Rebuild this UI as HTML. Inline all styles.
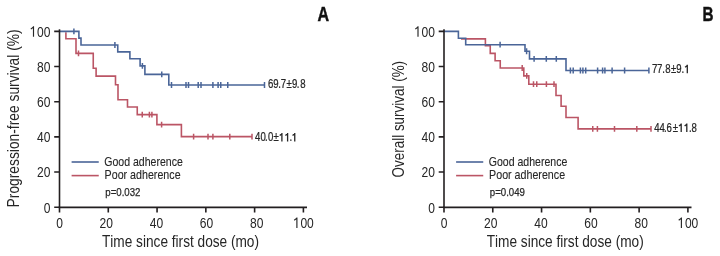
<!DOCTYPE html>
<html><head><meta charset="utf-8"><style>
html,body{margin:0;padding:0;background:#fff;width:720px;height:256px;overflow:hidden}
svg{display:block}
text{font-family:"Liberation Sans",sans-serif;font-kerning:none}
svg{will-change:transform}
</style></head><body>
<svg width="720" height="256" viewBox="0 0 720 256">
<rect width="720" height="256" fill="#fff"/>
<path d="M65.90 32.30 L65.90 32.30 L65.90 38.75 L76.00 38.75 L76.00 53.40 L93.25 53.40 L93.25 68.25 L96.10 68.25 L96.10 76.10 L115.50 76.10 L115.50 84.75 L118.00 84.75 L118.00 99.75 L127.50 99.75 L127.50 107.00 L137.25 107.00 L137.25 114.60 L156.90 114.60 L156.90 124.60 L181.40 124.60 L181.40 136.60 L252.00 136.60" fill="none" stroke="#bb5565" stroke-width="1.60" stroke-linejoin="miter"/><path d="M78.50 50.50 V56.30 M142.25 111.70 V117.50 M149.40 111.70 V117.50 M151.90 111.70 V117.50 M161.60 121.70 V127.50 M193.60 133.70 V139.50 M208.00 133.70 V139.50 M212.90 133.70 V139.50 M229.80 133.70 V139.50 M252.00 133.70 V139.50 " stroke="#bb5565" stroke-width="1.50"/><path d="M59.50 31.40 L78.90 31.40 L78.90 38.10 L81.00 38.10 L81.00 45.00 L117.75 45.00 L117.75 51.90 L129.90 51.90 L129.90 58.75 L140.10 58.75 L140.10 65.90 L144.90 65.90 L144.90 74.40 L168.80 74.40 L168.80 85.00 L264.50 85.00" fill="none" stroke="#4a6598" stroke-width="1.60" stroke-linejoin="miter"/><path d="M73.90 28.50 V34.30 M114.90 42.10 V47.90 M142.40 63.00 V68.80 M161.75 71.50 V77.30 M171.50 82.10 V87.90 M186.00 82.10 V87.90 M188.50 82.10 V87.90 M198.20 82.10 V87.90 M201.00 82.10 V87.90 M212.90 82.10 V87.90 M218.10 82.10 V87.90 M220.75 82.10 V87.90 M227.75 82.10 V87.90 M264.50 82.10 V87.90 " stroke="#4a6598" stroke-width="1.50"/><path d="M461.00 38.85 L485.40 38.85 L485.40 45.60 L490.25 45.60 L490.25 53.40 L495.10 53.40 L495.10 60.80 L500.25 60.80 L500.25 68.00 L523.80 68.00 L523.80 75.90 L528.80 75.90 L528.80 84.20 L556.00 84.20 L556.00 95.50 L561.10 95.50 L561.10 106.25 L566.00 106.25 L566.00 117.55 L578.10 117.55 L578.10 128.85 L651.00 128.85" fill="none" stroke="#bb5565" stroke-width="1.60" stroke-linejoin="miter"/><path d="M522.20 65.10 V70.90 M526.75 73.00 V78.80 M533.50 81.30 V87.10 M536.75 81.30 V87.10 M546.40 81.30 V87.10 M554.00 81.30 V87.10 M592.75 125.95 V131.75 M597.40 125.95 V131.75 M614.50 125.95 V131.75 M636.80 125.95 V131.75 M651.00 125.95 V131.75 " stroke="#bb5565" stroke-width="1.50"/><path d="M444.00 31.40 L458.40 31.40 L458.40 38.20 L465.70 38.20 L465.70 44.70 L525.00 44.70 L525.00 51.25 L529.50 51.25 L529.50 58.90 L566.00 58.90 L566.00 70.50 L648.90 70.50" fill="none" stroke="#4a6598" stroke-width="1.60" stroke-linejoin="miter"/><path d="M500.10 41.80 V47.60 M526.60 48.35 V54.15 M534.10 56.00 V61.80 M546.30 56.00 V61.80 M556.30 56.00 V61.80 M570.40 67.60 V73.40 M573.20 67.60 V73.40 M580.40 67.60 V73.40 M582.90 67.60 V73.40 M585.70 67.60 V73.40 M597.60 67.60 V73.40 M602.60 67.60 V73.40 M604.90 67.60 V73.40 M612.10 67.60 V73.40 M624.60 67.60 V73.40 M648.90 67.60 V73.40 " stroke="#4a6598" stroke-width="1.50"/><path d="M59.50 29.30 V208.10" fill="none" stroke="#231f20" stroke-width="1.6"/><path d="M58.70 207.35 H307.00" fill="none" stroke="#231f20" stroke-width="1.75"/><path d="M54.20 207.20 H59.50 M54.20 172.04 H59.50 M54.20 136.88 H59.50 M54.20 101.72 H59.50 M54.20 66.56 H59.50 M54.20 31.40 H59.50 M59.50 207.20 V212.50 M108.28 207.20 V212.50 M157.06 207.20 V212.50 M205.84 207.20 V212.50 M254.62 207.20 V212.50 M303.40 207.20 V212.50 " stroke="#231f20" stroke-width="1.6"/><text x="50.50" y="212.55" font-size="15.30" textLength="6.70" lengthAdjust="spacingAndGlyphs" text-anchor="end" font-weight="normal" fill="#262626" >0</text><text x="50.50" y="177.39" font-size="15.30" textLength="13.40" lengthAdjust="spacingAndGlyphs" text-anchor="end" font-weight="normal" fill="#262626" >20</text><text x="50.50" y="142.23" font-size="15.30" textLength="13.40" lengthAdjust="spacingAndGlyphs" text-anchor="end" font-weight="normal" fill="#262626" >40</text><text x="50.50" y="107.07" font-size="15.30" textLength="13.40" lengthAdjust="spacingAndGlyphs" text-anchor="end" font-weight="normal" fill="#262626" >60</text><text x="50.50" y="71.91" font-size="15.30" textLength="13.40" lengthAdjust="spacingAndGlyphs" text-anchor="end" font-weight="normal" fill="#262626" >80</text><text x="50.50" y="36.75" font-size="15.30" textLength="13.40" lengthAdjust="spacingAndGlyphs" text-anchor="end" font-weight="normal" fill="#262626" >00</text><path d="M33.50 36.75 V26.35 M33.84 26.75 L30.80 29.15" fill="none" stroke="#262626" stroke-width="1.15" stroke-linecap="butt" stroke-linejoin="miter"/><text x="59.60" y="227.90" font-size="15.30" textLength="6.70" lengthAdjust="spacingAndGlyphs" text-anchor="middle" font-weight="normal" fill="#262626" >0</text><text x="106.30" y="227.90" font-size="15.30" textLength="13.40" lengthAdjust="spacingAndGlyphs" text-anchor="middle" font-weight="normal" fill="#262626" >20</text><text x="156.45" y="227.90" font-size="15.30" textLength="13.40" lengthAdjust="spacingAndGlyphs" text-anchor="middle" font-weight="normal" fill="#262626" >40</text><text x="206.55" y="227.90" font-size="15.30" textLength="13.40" lengthAdjust="spacingAndGlyphs" text-anchor="middle" font-weight="normal" fill="#262626" >60</text><text x="256.65" y="227.90" font-size="15.30" textLength="13.40" lengthAdjust="spacingAndGlyphs" text-anchor="middle" font-weight="normal" fill="#262626" >80</text><text x="313.80" y="227.90" font-size="15.30" textLength="13.40" lengthAdjust="spacingAndGlyphs" text-anchor="end" font-weight="normal" fill="#262626" >00</text><path d="M296.90 227.90 V217.50 M297.25 217.90 L294.20 220.30" fill="none" stroke="#262626" stroke-width="1.15" stroke-linecap="butt" stroke-linejoin="miter"/><path d="M444.00 29.30 V208.10" fill="none" stroke="#231f20" stroke-width="1.6"/><path d="M443.20 207.35 H691.50" fill="none" stroke="#231f20" stroke-width="1.75"/><path d="M438.70 207.20 H444.00 M438.70 172.04 H444.00 M438.70 136.88 H444.00 M438.70 101.72 H444.00 M438.70 66.56 H444.00 M438.70 31.40 H444.00 M444.00 207.20 V212.50 M492.78 207.20 V212.50 M541.56 207.20 V212.50 M590.34 207.20 V212.50 M639.12 207.20 V212.50 M687.90 207.20 V212.50 " stroke="#231f20" stroke-width="1.6"/><text x="435.00" y="212.55" font-size="15.30" textLength="6.70" lengthAdjust="spacingAndGlyphs" text-anchor="end" font-weight="normal" fill="#262626" >0</text><text x="435.00" y="177.39" font-size="15.30" textLength="13.40" lengthAdjust="spacingAndGlyphs" text-anchor="end" font-weight="normal" fill="#262626" >20</text><text x="435.00" y="142.23" font-size="15.30" textLength="13.40" lengthAdjust="spacingAndGlyphs" text-anchor="end" font-weight="normal" fill="#262626" >40</text><text x="435.00" y="107.07" font-size="15.30" textLength="13.40" lengthAdjust="spacingAndGlyphs" text-anchor="end" font-weight="normal" fill="#262626" >60</text><text x="435.00" y="71.91" font-size="15.30" textLength="13.40" lengthAdjust="spacingAndGlyphs" text-anchor="end" font-weight="normal" fill="#262626" >80</text><text x="435.00" y="36.75" font-size="15.30" textLength="13.40" lengthAdjust="spacingAndGlyphs" text-anchor="end" font-weight="normal" fill="#262626" >00</text><path d="M418.00 36.75 V26.35 M418.35 26.75 L415.30 29.15" fill="none" stroke="#262626" stroke-width="1.15" stroke-linecap="butt" stroke-linejoin="miter"/><text x="444.10" y="227.90" font-size="15.30" textLength="6.70" lengthAdjust="spacingAndGlyphs" text-anchor="middle" font-weight="normal" fill="#262626" >0</text><text x="490.80" y="227.90" font-size="15.30" textLength="13.40" lengthAdjust="spacingAndGlyphs" text-anchor="middle" font-weight="normal" fill="#262626" >20</text><text x="540.95" y="227.90" font-size="15.30" textLength="13.40" lengthAdjust="spacingAndGlyphs" text-anchor="middle" font-weight="normal" fill="#262626" >40</text><text x="591.05" y="227.90" font-size="15.30" textLength="13.40" lengthAdjust="spacingAndGlyphs" text-anchor="middle" font-weight="normal" fill="#262626" >60</text><text x="641.15" y="227.90" font-size="15.30" textLength="13.40" lengthAdjust="spacingAndGlyphs" text-anchor="middle" font-weight="normal" fill="#262626" >80</text><text x="698.30" y="227.90" font-size="15.30" textLength="13.40" lengthAdjust="spacingAndGlyphs" text-anchor="end" font-weight="normal" fill="#262626" >00</text><path d="M681.40 227.90 V217.50 M681.75 217.90 L678.70 220.30" fill="none" stroke="#262626" stroke-width="1.15" stroke-linecap="butt" stroke-linejoin="miter"/><g transform="scale(0.7740 1)"><text x="346.27 353.17 359.46 362.80 370.15 377.20 383.56 387.83" y="87.90" font-size="12.40" fill="#262626" stroke="#262626" stroke-width="0.25">69.7±9.8</text></g><g transform="scale(0.7740 1)"><text x="329.43 336.47 342.28 346.16 353.48 373.93" y="141.50" font-size="12.40" fill="#262626" stroke="#262626" stroke-width="0.25">40.0±.</text></g><path d="M281.90 141.50 V133.00 M282.29 133.46 L279.70 135.60" fill="none" stroke="#262626" stroke-width="1.30" stroke-linecap="butt" stroke-linejoin="miter"/><path d="M287.60 141.50 V133.00 M287.99 133.46 L285.40 135.60" fill="none" stroke="#262626" stroke-width="1.30" stroke-linecap="butt" stroke-linejoin="miter"/><path d="M294.75 141.50 V133.00 M295.14 133.46 L292.55 135.60" fill="none" stroke="#262626" stroke-width="1.30" stroke-linecap="butt" stroke-linejoin="miter"/><g transform="scale(0.7740 1)"><text x="842.39 848.85 855.59 859.41 866.85 873.71 880.39" y="73.20" font-size="12.40" fill="#262626" stroke="#262626" stroke-width="0.25">77.8±9.</text></g><path d="M687.30 73.20 V64.70 M687.69 65.16 L685.10 67.30" fill="none" stroke="#262626" stroke-width="1.30" stroke-linecap="butt" stroke-linejoin="miter"/><g transform="scale(0.7740 1)"><text x="845.32 852.04 858.04 861.26 869.25 890.21 893.52" y="132.00" font-size="12.40" fill="#262626" stroke="#262626" stroke-width="0.25">44.6±.8</text></g><path d="M681.20 132.00 V123.50 M681.59 123.95 L679.00 126.10" fill="none" stroke="#262626" stroke-width="1.30" stroke-linecap="butt" stroke-linejoin="miter"/><path d="M686.80 132.00 V123.50 M687.19 123.95 L684.60 126.10" fill="none" stroke="#262626" stroke-width="1.30" stroke-linecap="butt" stroke-linejoin="miter"/><path d="M71.60 162.00 H98.75" stroke="#4a6598" stroke-width="1.6"/><path d="M71.60 175.60 H98.75" stroke="#bb5565" stroke-width="1.6"/><text x="104.20" y="165.70" font-size="13.20" textLength="78.60" lengthAdjust="spacingAndGlyphs" text-anchor="start" font-weight="normal" fill="#262626" stroke="#262626" stroke-width="0.12">Good adherence</text><text x="104.60" y="179.40" font-size="13.20" textLength="76.00" lengthAdjust="spacingAndGlyphs" text-anchor="start" font-weight="normal" fill="#262626" stroke="#262626" stroke-width="0.12">Poor adherence</text><text x="105.30" y="195.90" font-size="11.40" textLength="35.20" lengthAdjust="spacingAndGlyphs" text-anchor="start" font-weight="normal" fill="#262626" stroke="#262626" stroke-width="0.25">p=0.032</text><path d="M456.10 162.00 H483.25" stroke="#4a6598" stroke-width="1.6"/><path d="M456.10 175.60 H483.25" stroke="#bb5565" stroke-width="1.6"/><text x="488.70" y="165.70" font-size="13.20" textLength="78.60" lengthAdjust="spacingAndGlyphs" text-anchor="start" font-weight="normal" fill="#262626" stroke="#262626" stroke-width="0.12">Good adherence</text><text x="489.10" y="179.40" font-size="13.20" textLength="76.00" lengthAdjust="spacingAndGlyphs" text-anchor="start" font-weight="normal" fill="#262626" stroke="#262626" stroke-width="0.12">Poor adherence</text><text x="489.80" y="195.90" font-size="11.40" textLength="35.20" lengthAdjust="spacingAndGlyphs" text-anchor="start" font-weight="normal" fill="#262626" stroke="#262626" stroke-width="0.25">p=0.049</text><text x="102.00" y="246.50" font-size="15.80" textLength="157.00" lengthAdjust="spacingAndGlyphs" text-anchor="start" font-weight="normal" fill="#262626" >Time since first dose (mo)</text><text x="486.70" y="246.50" font-size="15.80" textLength="157.00" lengthAdjust="spacingAndGlyphs" text-anchor="start" font-weight="normal" fill="#262626" >Time since first dose (mo)</text><text x="0.00" y="0.00" font-size="16.60" textLength="178.00" lengthAdjust="spacingAndGlyphs" text-anchor="start" font-weight="normal" fill="#262626" transform="translate(19.2 207.4) rotate(-90)">Progression-free survival (%)</text><text x="0.00" y="0.00" font-size="16.60" textLength="116.50" lengthAdjust="spacingAndGlyphs" text-anchor="start" font-weight="normal" fill="#262626" transform="translate(403.7 177.4) rotate(-90)">Overall survival (%)</text><text x="317.60" y="20.60" font-size="19.60" textLength="11.60" lengthAdjust="spacingAndGlyphs" text-anchor="start" font-weight="bold" fill="#111" stroke="#111" stroke-width="0.45">A</text><text x="702.40" y="20.80" font-size="19.60" textLength="11.00" lengthAdjust="spacingAndGlyphs" text-anchor="start" font-weight="bold" fill="#111" stroke="#111" stroke-width="0.45">B</text>
</svg>
</body></html>
